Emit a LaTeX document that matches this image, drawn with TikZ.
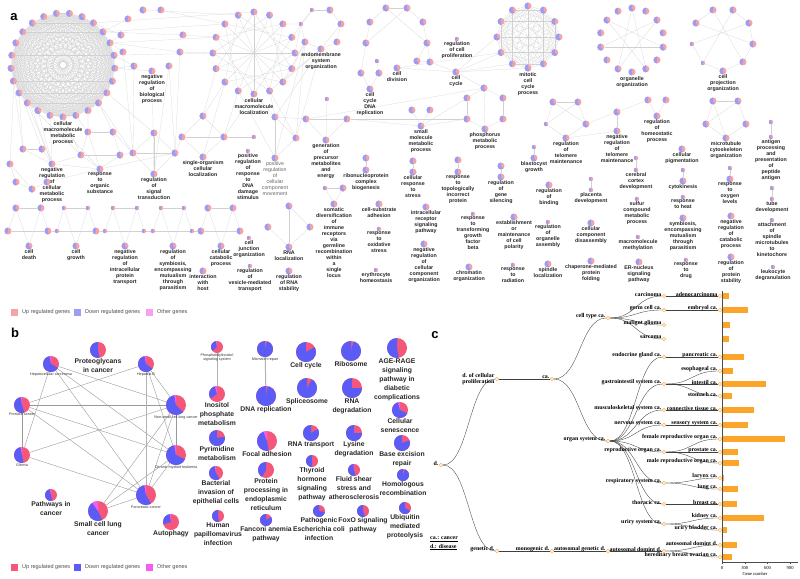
\documentclass[tikz,border=0pt]{standalone}
\usepackage{fontspec}
\setmainfont{Liberation Sans}
\newfontfamily\treefont{Liberation Serif}
\usetikzlibrary{positioning}
\definecolor{upA}{HTML}{F4A3A8}
\definecolor{downA}{HTML}{9C9CF2}
\definecolor{othA}{HTML}{F6A0F4}
\definecolor{upB}{HTML}{F5577A}
\definecolor{downB}{HTML}{5B5BF5}
\definecolor{othB}{HTML}{F45CF2}
\definecolor{treeor}{HTML}{F6B04A}
\definecolor{baror}{HTML}{FBA52A}
\pgfdeclarelayer{bg}
\pgfsetlayers{bg,main}

\begin{document}
\begin{tikzpicture}[x=1pt, y=-1pt,
  apie/.style={circle, inner sep=0pt, minimum size=7pt, fill=upA, label distance=0.8pt,
    path picture={\fill[downA] (path picture bounding box.center) -- ++(90:6pt)
      arc[start angle=90, delta angle=#1, radius=6pt] -- cycle;}},
  apie/.default=180,
  sm/.style={minimum size=4.4pt},
  albl/.style={font=\bfseries\fontsize{5.3}{6}\selectfont, align=center, inner sep=0pt, text=black!85},
  aedge/.style={draw=black!18, line width=0.2pt},
  bpie/.style n args={3}{circle, inner sep=0pt, minimum size=#1, fill=upB, label distance=0.6pt,
    path picture={\fill[downB] (path picture bounding box.center) -- ++({90+#3}:15pt)
      arc[start angle={90+#3}, delta angle=#2, radius=15pt] -- cycle;
      \fill[othB] (path picture bounding box.center) -- ++(90:15pt)
      arc[start angle=90, delta angle=#3, radius=15pt] -- cycle;}},
  blbl/.style={font=\bfseries\fontsize{6.8}{9.2}\selectfont, align=center, inner sep=0pt, text=black!85},
  btiny/.style={font=\fontsize{3.7}{4.8}\selectfont, align=center, inner sep=0pt, text=black!80},
  bedge/.style={draw=black!40, line width=0.4pt},
  cnode/.style={circle, draw=treeor, fill=white, line width=0.45pt, inner sep=0pt, minimum size=3.4pt},
  clbl/.style={font=\treefont\bfseries\fontsize{5.9}{6.6}\selectfont, inner sep=0.5pt, yshift=1.8pt},
  c2lbl/.style={font=\treefont\bfseries\fontsize{5.9}{6.6}\selectfont, inner sep=0.5pt, align=right},
  cedge/.style={draw=black!75, line width=0.35pt},
  legtext/.style={font=\fontsize{5.5}{6}\selectfont, text=black!70, anchor=west, inner sep=0pt},
  panel/.style={font=\bfseries\fontsize{13}{13}\selectfont, inner sep=0pt}]

  \useasboundingbox (0,0) rectangle (800,578);

  % ---------------- panel a ----------------
  \node[panel] (pa) at (14,17) {a};

  % big cluster
  \foreach \i in {1,...,25} {
    \pgfmathsetmacro\ang{-82.8+14.4*(\i-1)}
    \pgfmathtruncatemacro\pa{150+mod(\i*37,80)}
    \node[apie=\pa] (mm\i) at ({63+52*cos(\ang)},{65+52*sin(\ang)}) {};
  }
  \node[albl, below=1pt of mm13] (mm13t) {cellular\\macromolecule\\metabolic\\process};

  \node[apie=190] (nb1) at (121,35) {};
  \node[apie=170] (nb2) at (128,19) {};
  \node[apie=200] (nb3) at (143,10) {};
  \node[apie=160] (nb4) at (161,10) {};
  \node[apie=150] (nb5) at (183,35) {};
  \node[apie=210] (nb6) at (180,52) {};
  \node[apie=180] (nb7) at (169,66) {};
  \node[apie=170, label={[albl]below:{negative\\regulation\\of\\biological\\process}}] (nb8) at (152,71) {};
  \node[apie=200] (nb9) at (134,66) {};
  \node[apie=160] (nb10) at (123,52) {};

  \node[apie] (mp1) at (23,149) {};
  \node[apie=200] (mp2) at (42,149) {};
  \node[apie=170, label={[albl]below:{negative\\regulation\\of\\cellular\\metabolic\\process}}] (mp3) at (52,164) {};
  \node[apie=160] (mp4) at (10,164) {};
  \node[apie=190] (mp5) at (16,182) {};
  \node[apie=200] (mp6) at (32,189) {};
  \node[apie=180] (mp7) at (47,182) {};

  \node[apie=170] (ro1) at (88,132) {};
  \node[apie=190] (ro2) at (113,132) {};
  \node[apie=160] (ro3) at (81,155) {};
  \node[apie=200] (ro4) at (120,155) {};
  \node[apie, label={[albl]below:{response\\to\\organic\\substance}}] (ro5) at (100,169) {};

  \node[apie=190] (rs1) at (154,133) {};
  \node[apie=170] (rs2) at (133,153) {};
  \node[apie=210] (rs3) at (175,153) {};
  \node[apie, label={[albl]below:{regulation\\of\\signal\\transduction}}] (rs4) at (154,174) {};

  \node[apie=200] (sl1) at (203,116) {};
  \node[apie=170] (sl2) at (182,137) {};
  \node[apie=190] (sl3) at (224,137) {};
  \node[apie, label={[albl]below:{single-organism\\cellular\\localization}}] (sl4) at (203,157) {};

  \node[apie, sm] (pr1) at (254,137) {};
  \node[apie, sm, label={[albl]below:{positive\\regulation\\of\\response\\to\\DNA\\damage\\stimulus}}] (pr2) at (248,151) {};

  % localization cluster
  \foreach \i in {1,...,16} {
    \pgfmathsetmacro\ang{-90+22.5*(\i-1)}
    \pgfmathtruncatemacro\pa{150+mod(\i*29,80)}
    \node[apie=\pa] (ml\i) at ({254+41*cos(\ang)},{53+41*sin(\ang)}) {};
  }
  \node[albl, below=0.8pt of ml9] (ml9t) {cellular\\macromolecule\\localization};

  \node[apie, sm] (em1) at (312,10) {};
  \node[apie=200] (em2) at (330,10) {};
  \node[apie, sm] (em3) at (301,24) {};
  \node[apie=160] (em4) at (341,24) {};
  \node[apie=190] (em5) at (305,42) {};
  \node[apie=170] (em6) at (337,42) {};
  \node[apie, label={[albl]below:{endomembrane\\system\\organization}}] (em7) at (321,49) {};

  \node[apie=200] (pm1) at (275,117) {};
  \node[apie=170] (pm2) at (296,138) {};
  \node[apie, label={[albl, font=\fontsize{5.3}{6}\selectfont, text=black!60]below:{positive\\regulation\\of\\cellular\\component\\movement}}] (pm3) at (275,158) {};

  \node[apie, sm] (gp1) at (327,99) {};
  \node[apie=190] (gp2) at (306,119) {};
  \node[apie=170] (gp3) at (347,119) {};
  \node[apie=200, label={[albl]below:{generation\\of\\precursor\\metabolites\\and\\energy}}] (gp4) at (326,140) {};

  % cell division cluster
  \node[apie=200] (cd1) at (370,22) {};
  \node[apie=220] (cd2) at (386,8) {};
  \node[apie=210] (cd3) at (407,8) {};
  \node[apie=200] (cd4) at (423,22) {};
  \node[apie=220] (cd5) at (427,43) {};
  \node[apie=200] (cd6) at (430,62) {};
  \node[apie=210] (cd7) at (417,61) {};
  \node[apie=220] (cd8) at (366,43) {};
  \node[apie=230, sm] (cd9) at (377,61) {};
  \node[apie=220] (cd10) at (361,73) {};
  \node[apie=210] (cd11) at (379,73) {};
  \node[apie=200, label={[albl]below:{cell\\division}}] (cd12) at (397,68) {};
  \node[apie=230, label={[albl]below:{cell\\cycle\\DNA\\replication}}] (cd13) at (370,89) {};

  \node[apie=170, sm, label={[albl]below:{regulation\\of cell\\proliferation}}] (rcp) at (457,39) {};
  \node[apie=200, label={[albl]below:{cell\\cycle}}] (cc) at (456,72) {};

  \foreach \i in {1,...,12} {
    \pgfmathsetmacro\ang{-90+30*(\i-1)}
    \pgfmathtruncatemacro\pa{170+mod(\i*23,60)}
    \node[apie=\pa] (mc\i) at ({528+31*cos(\ang)},{37+31*sin(\ang)}) {};
  }
  \node[albl, below=0.8pt of mc7] (mc7t) {mitotic\\cell\\cycle\\process};

  \foreach \i in {1,...,14} {
    \pgfmathsetmacro\ang{-90+360/14*(\i-1)}
    \pgfmathtruncatemacro\pa{170+mod(\i*31,60)}
    \node[apie=\pa] (oo\i) at ({632+32*cos(\ang)},{40+32*sin(\ang)}) {};
  }
  \node[albl, below=0.8pt of oo8] (oo8t) {organelle\\organization};

  \node[apie=180, label={[albl]below:{cell\\projection\\organization}}] (cp1) at (723,71) {};
  \node[apie, sm] (cp2) at (703,63) {};
  \node[apie, sm] (cp3) at (692,44) {};
  \node[apie=200] (cp4) at (696,23) {};
  \node[apie=170] (cp5) at (713,10) {};
  \node[apie=190] (cp6) at (733,10) {};
  \node[apie=210] (cp7) at (749,23) {};
  \node[apie=180] (cp8) at (753,44) {};
  \node[apie=160] (cp9) at (743,62) {};

  \node[apie=220] (tm1) at (553,102) {};
  \node[apie=200] (tm2) at (578,102) {};
  \node[apie=230, sm] (tm3) at (546,124) {};
  \node[apie=220] (tm4) at (586,124) {};
  \node[apie=190, label={[albl]below:{regulation\\of\\telomere\\maintenance}}] (tm5) at (566,138) {};
  \node[apie=220] (tm6) at (617,112) {};
  \node[apie=190, label={[albl]below:{negative\\regulation\\of\\telomere\\maintenance}}] (tm7) at (617,131) {};

  \node[apie=170] (hp1) at (648,100) {};
  \node[apie=150] (hp2) at (666,100) {};
  \node[apie=190, label={[albl]below:{regulation\\of\\homeostatic\\process}}] (hp3) at (657,116) {};

  \node[apie=200] (mt1) at (713,101) {};
  \node[apie=220] (mt2) at (738,101) {};
  \node[apie=210] (mt3) at (706,124) {};
  \node[apie=200] (mt4) at (746,124) {};
  \node[apie=180, label={[albl]below:{microtubule\\cytoskeleton\\organization}}] (mt5) at (726,138) {};

  \node[apie=220, sm] (ag1) at (771,122) {};
  \node[apie=220, sm, label={[albl]below:{antigen\\processing\\and\\presentation\\of\\peptide\\antigen}}] (ag2) at (771,137) {};

  \node[apie=200] (sm1) at (412,110) {};
  \node[apie=170] (sm2) at (430,110) {};
  \node[apie=220, label={[albl]below:{small\\molecule\\metabolic\\process}}] (sm3) at (421,126) {};

  \node[apie=200] (ph1) at (484,88) {};
  \node[apie=170] (ph2) at (467,98) {};
  \node[apie=190] (ph3) at (503,98) {};
  \node[apie=180] (ph4) at (467,119) {};
  \node[apie=170] (ph5) at (503,119) {};
  \node[apie=210, label={[albl]below:{phosphorus\\metabolic\\process}}] (ph6) at (485,129) {};

  \node[apie=180] (cs1) at (413,161) {};
  \node[apie=200, label={[albl]below:{cellular\\response\\to\\stress}}] (cs2) at (413,172) {};
  \node[apie=170] (tp1) at (458,160) {};
  \node[apie=190, label={[albl]below:{response\\to\\topologically\\incorrect\\protein}}] (tp2) at (458,172) {};
  \node[apie=220] (gs1) at (501,166) {};
  \node[apie=210, label={[albl]below:{regulation\\of\\gene\\silencing}}] (gs2) at (501,177) {};
  \node[apie=220, sm] (bg1) at (534,147) {};
  \node[apie=220, label={[albl]below:{blastocyst\\growth}}] (bg2) at (534,158) {};
  \node[apie=170, label={[albl]below:{regulation\\of\\binding}}] (rbind) at (549,185) {};

  \node[apie=200] (rb1) at (366,158) {};
  \node[apie=210, label={[albl]below:{ribonucleoprotein\\complex\\biogenesis}}] (rb2) at (366,170) {};
  \node[apie=220, sm] (so1) at (325,188) {};
  \node[apie=200] (so2) at (343,188) {};
  \node[apie=190, label={[albl]below:{somatic\\diversification\\of\\immune\\receptors\\via\\germline\\recombination\\within\\a\\single\\locus}}] (so3) at (334,204) {};
  \node[apie=170, label={[albl]below:{cell-substrate\\adhesion}}] (sa) at (379,204) {};
  \node[apie=160, sm, label={[albl]below:{response\\to\\oxidative\\stress}}] (ox) at (379,229) {};
  \node[apie=170, sm, label={[albl]below:{erythrocyte\\homeostasis}}] (er) at (376,270) {};

  \node[apie=220] (rl1) at (289,206) {};
  \node[apie=200] (rl2) at (268,227) {};
  \node[apie=190] (rl3) at (310,227) {};
  \node[apie=220, label={[albl]below:{RNA\\localization}}] (rl4) at (289,247) {};
  \node[apie=200, label={[albl]below:{regulation\\of RNA\\stability}}] (rst) at (289,271) {};

  \node[apie=190, label={[albl]below:{intracellular\\receptor\\signaling\\pathway}}] (ir) at (426,207) {};
  \node[apie=160, sm, label={[albl]below:{response\\to\\transforming\\growth\\factor\\beta}}] (tg) at (473,214) {};
  \node[apie=200, label={[albl]below:{establishment\\or\\maintenance\\of cell\\polarity}}] (cpol) at (514,217) {};
  \node[apie=170, sm, label={[albl]below:{regulation\\of\\organelle\\assembly}}] (oa) at (548,222) {};
  \node[apie=200, label={[albl]below:{negative\\regulation\\of\\cellular\\component\\organization}}] (nrc) at (424,244) {};
  \node[apie=210, label={[albl]below:{chromatin\\organization}}] (chr) at (469,267) {};
  \node[apie=170, sm, label={[albl]below:{response\\to\\radiation}}] (rad) at (513,265) {};
  \node[apie=200, label={[albl]below:{spindle\\localization}}] (spl) at (548,264) {};

  % bottom left row
  \node[apie=200] (dth1) at (16,208) {};
  \node[apie=170] (dth2) at (41,208) {};
  \node[apie=160] (dth3) at (8,231) {};
  \node[apie=190] (dth4) at (48,231) {};
  \node[apie=210, label={[albl]below:{cell\\death}}] (dth5) at (29,246) {};
  \node[apie, sm] (gr1) at (64,208) {};
  \node[apie, sm] (gr2) at (88,208) {};
  \node[apie, sm] (gr3) at (57,231) {};
  \node[apie=160] (gr4) at (96,231) {};
  \node[apie=190, label={[albl]below:{cell\\growth}}] (gr5) at (76,246) {};
  \node[apie, sm] (ip1) at (113,208) {};
  \node[apie, sm] (ip2) at (137,208) {};
  \node[apie, sm] (ip3) at (105,231) {};
  \node[apie, sm] (ip4) at (144,231) {};
  \node[apie=220, label={[albl]below:{negative\\regulation\\of\\intracellular\\protein\\transport}}] (ip5) at (125,246) {};
  \node[apie, sm] (sy1) at (161,208) {};
  \node[apie, sm] (sy2) at (184,208) {};
  \node[apie, sm] (sy3) at (153,231) {};
  \node[apie, sm] (sy4) at (192,231) {};
  \node[apie=220, label={[albl]below:{regulation\\of\\symbiosis,\\encompassing\\mutualism\\through\\parasitism}}] (sy5) at (173,246) {};
  \node[apie=200] (cb1) at (208,208) {};
  \node[apie=170] (cb2) at (233,208) {};
  \node[apie=210] (cb3) at (201,231) {};
  \node[apie=180] (cb4) at (240,231) {};
  \node[apie=200, label={[albl]below:{cellular\\catabolic\\process}}] (cb5) at (221,246) {};
  \node[apie=170, label={[albl]below:{interaction\\with\\host}}] (ih) at (203,271) {};
  \node[apie=160, sm, label={[albl]below:{cell\\junction\\organization}}] (cj) at (249,238) {};
  \node[apie=160, sm, label={[albl]below:{regulation\\of\\vesicle-mediated\\transport}}] (vt) at (250,266) {};

  % right side singles
  \node[apie=190, label={[albl]below:{cellular\\pigmentation}}] (cpig) at (682,149) {};
  \node[apie=220, sm] (ck1) at (683,170) {};
  \node[apie=210, label={[albl]below:{cytokinesis}}] (ck2) at (683,181) {};
  \node[apie=220, sm, label={[albl]below:{response\\to heat}}] (rh) at (683,197) {};
  \node[apie=200, label={[albl]below:{symbiosis,\\encompassing\\mutualism\\through\\parasitism}}] (sym) at (683,218) {};
  \node[apie=170, sm, label={[albl]below:{response\\to\\drug}}] (rdr) at (686,260) {};
  \node[apie=170, sm] (ccd1) at (636,158) {};
  \node[apie=200, sm, label={[albl]below:{cerebral\\cortex\\development}}] (ccd2) at (636,170) {};
  \node[apie=170, sm, label={[albl]below:{sulfur\\compound\\metabolic\\process}}] (sul) at (637,199) {};
  \node[apie=210, sm, label={[albl]below:{macromolecule\\methylation}}] (mme) at (638,237) {};
  \node[apie=170, label={[albl]below:{ER-nucleus\\signaling\\pathway}}] (ern) at (639,262) {};
  \node[apie=160, sm] (pd1) at (591,179) {};
  \node[apie=160, sm, label={[albl]below:{placenta\\development}}] (pd2) at (591,190) {};
  \node[apie=190, label={[albl]below:{cellular\\component\\disassembly}}] (ccdis) at (591,223) {};
  \node[apie=190, label={[albl]below:{chaperone-mediated\\protein\\folding}}] (chap) at (591,261) {};
  \node[apie=230, sm] (oxl1) at (730,168) {};
  \node[apie=200, label={[albl]below:{response\\to\\oxygen\\levels}}] (oxl2) at (730,179) {};
  \node[apie=170, label={[albl]below:{negative\\regulation\\of\\catabolic\\process}}] (nrcat) at (731,216) {};
  \node[apie=200, label={[albl]below:{regulation\\of\\protein\\stability}}] (rps) at (731,257) {};
  \node[apie=230, sm] (td1) at (772,188) {};
  \node[apie=170, sm, label={[albl]below:{tube\\development}}] (td2) at (772,199) {};
  \node[apie=230, sm, label={[albl]below:{attachment\\of\\spindle\\microtubules\\to\\kinetochore}}] (att) at (772,220) {};
  \node[apie=210, sm, label={[albl]below:{leukocyte\\degranulation}}] (leu) at (773,267) {};

  \begin{pgfonlayer}{bg}
    \foreach \i in {1,...,24} {
      \pgfmathtruncatemacro\k{\i+1}
      \foreach \j in {\k,...,25} \draw[aedge] (mm\i) -- (mm\j);
    }
    \foreach \i in {1,...,11} {
      \pgfmathtruncatemacro\k{\i+1}
      \foreach \j in {\k,...,12} \draw[aedge] (mc\i) -- (mc\j);
    }
    \foreach \i in {1,...,16} {
      \pgfmathtruncatemacro\k{mod(\i+4,16)+1}
      \draw[aedge] (ml\i) -- (ml\k);
    }
    \foreach \i in {1,...,8} {
      \pgfmathtruncatemacro\k{\i+8}
      \draw[aedge] (ml\i) -- (ml\k);
    }
    \foreach \i in {1,3,...,13} {
      \pgfmathtruncatemacro\k{mod(\i+5,14)+1}
      \draw[aedge] (oo\i) -- (oo\k);
    }
    \foreach \u/\v in {mm4/nb2, mm5/nb1, mm5/nb10, mm6/nb10, mm6/nb9, mm7/nb9, mm7/nb8, mm3/nb1, mm4/nb5, mm5/nb6,
      mm3/ml1, mm4/ml15, mm5/ml14, mm6/ml13, nb5/ml14, nb6/ml13, nb4/ml15, nb3/ml16,
      mm17/mp1, mm18/mp1, mm19/mp2, mm16/mp3, mm15/mp3, mm14/mp3, mm20/mp3, mm12/ro1, mm11/ro1, mm13/ro3,
      mm10/rs2, mm9/rs1, mm21/mp4, mm14/ro5, mm16/ro3, mm10/ro2,
      mp1/mp2, mp1/mp3, mp2/mp3, mp4/mp5, mp5/mp6, mp4/mp6, mp3/mp7, mp6/mp7,
      ro1/ro2, ro1/ro3, ro2/ro4, ro3/ro4, ro1/ro5, ro4/ro5, ro3/ro5,
      rs1/rs2, rs1/rs3, rs2/rs3, rs2/rs4, rs3/rs4, rs1/rs4,
      nb9/rs2, nb8/rs4, nb7/rs3, nb6/rs3, nb10/rs2, nb7/rs4,
      ro2/rs2, ro4/rs2, ro5/rs3, mp3/ro3, mp3/ro5, mp7/ro5,
      sl1/sl2, sl1/sl3, sl2/sl4, sl3/sl4, sl2/sl3, sl3/pr1, sl1/ml11, sl1/ml12, sl3/ml10, sl2/rs3, sl4/ml11, sl3/ml9,
      ml5/em3, ml6/em5, ml4/em1, ml7/em5, ml7/em7, ml8/em7, ml3/em3,
      em1/em2, em1/em3, em2/em4, em3/em5, em4/em6, em5/em7, em6/em7, em4/em7,
      ml9/pm1, ml8/pm1, ml10/pm3, ml8/pm2, em5/pm2, em7/pm1, em5/pm3, em7/pm2,
      pm1/pm2, pm2/pm3, pm1/pm3,
      gp1/gp4, gp2/gp4, gp3/gp4, gp2/gp3, pm1/gp2, gp2/ph1, gp3/sm3, gp3/ph4,
      cd1/cd2, cd2/cd3, cd3/cd4, cd4/cd5, cd5/cd6, cd5/cd7, cd6/cd7, cd1/cd8, cd8/cd10, cd3/cd8, cd2/cd5,
      cd9/cd11, cd12/cc, cd6/cc, cd12/mc9, cd11/cd13, cd10/cd13,
      cc/mc8, cc/mc9, cc/mc10, cc/ph1, cc/mc7,
      ph1/ph2, ph1/ph3, ph1/ph6, ph2/ph4, ph3/ph5, ph4/ph6, ph5/ph6, sm3/ph4, sm3/ph2, sm1/sm3, sm2/sm3,
      cp1/cp2, cp2/cp3, cp4/cp5, cp6/cp7, cp7/cp8, cp8/cp9, cp9/cp1, cp5/cp9, cp4/cp8, cp6/cp2, cp3/cp7,
      tm1/tm2, tm1/tm4, tm2/tm3, tm3/tm5, tm4/tm5, tm1/tm3, tm2/tm4, tm4/tm6, tm6/hp1, tm5/tm7, tm6/tm7,
      hp1/hp3, hp2/hp3,
      mt1/mt2, mt1/mt3, mt2/mt4, mt3/mt5, mt4/mt5, mt1/mt5, mt2/mt3,
      ag1/ag2, cs1/cs2, tp1/tp2, gs1/gs2, bg1/bg2, rb1/rb2, ck1/ck2, ccd1/ccd2, pd1/pd2, oxl1/oxl2, td1/td2,
      so1/so2, so1/so3, so2/so3, rl1/rl4, rl1/rl3, rl3/rl4, rl2/rl4,
      dth1/dth3, dth1/dth5, dth2/dth4, dth2/dth5, dth3/dth4, dth1/dth2,
      gr1/gr3, gr1/gr5, gr2/gr4, gr2/gr5, gr3/gr4, gr1/gr2,
      ip1/ip3, ip1/ip5, ip2/ip4, ip2/ip5, ip3/ip4, ip1/ip2,
      sy1/sy3, sy1/sy5, sy2/sy4, sy2/sy5, sy3/sy4, sy1/sy2,
      cb1/cb3, cb1/cb5, cb2/cb4, cb2/cb5, cb3/cb4, cb1/cb2,
      dth4/gr3, gr4/ip3, ip4/sy3, sy4/cb3}
      \draw[aedge] (\u) -- (\v);
  \end{pgfonlayer}

  % legend a
  \fill[upA] (11,309) rectangle (18,316);
  \node[legtext] (la1) at (22,312.5) {Up regulated genes};
  \fill[downA] (74,309) rectangle (81,316);
  \node[legtext] (la2) at (85,312.5) {Down regulated genes};
  \fill[othA] (146,309) rectangle (153,316);
  \node[legtext] (la3) at (157,312.5) {Other genes};

  % ---------------- panel b ----------------
  \node[panel] (pb) at (15,333) {b};

  \node[bpie={16pt}{190}{0}, label={[blbl]below:{Proteoglycans\\in cancer}}] (bPro) at (98,350) {};
  \node[bpie={16pt}{230}{10}, label={[btiny]below:{Hepatocellular carcinoma}}] (bHcc) at (51,364) {};
  \node[bpie={16pt}{225}{10}, label={[btiny]below:{Hepatitis B}}] (bHepB) at (146,364) {};
  \node[bpie={16pt}{190}{8}, label={[btiny]below:{Prostate cancer}}] (bPros) at (22,405) {};
  \node[bpie={20pt}{215}{10}, label={[btiny]below:{Non-small cell lung cancer}}] (bNsc) at (176,405) {};
  \node[bpie={16pt}{180}{10}, label={[btiny]below:{Glioma}}] (bGli) at (22,455) {};
  \node[bpie={20pt}{235}{10}, label={[btiny]below:{Chronic myeloid leukemia}}] (bCml) at (176,455) {};
  \node[bpie={20pt}{200}{10}, label={[btiny]below:{Pancreatic cancer}}] (bPan) at (146,495) {};
  \node[bpie={20pt}{170}{35}, label={[blbl]below:{Small cell lung\\cancer}}] (bScl) at (98,511) {};
  \node[bpie={12pt}{180}{10}, label={[blbl]below:{Pathways in\\cancer}}] (bPic) at (51,495) {};
  \node[bpie={16pt}{100}{8}, label={[blbl]below:{Autophagy}}] (bAut) at (171,522) {};

  \node[bpie={12pt}{120}{10}, label={[btiny]below:{Phosphatidylinositol\\signaling system}}] (bPhi) at (217,347) {};
  \node[bpie={16pt}{110}{15}, label={[blbl]below:{Inositol\\phosphate\\metabolism}}] (bIno) at (217,394) {};
  \node[bpie={16pt}{345}{0}, label={[btiny]below:{Mismatch repair}}] (bMmr) at (265,349) {};
  \node[bpie={20pt}{350}{0}, label={[blbl]below:{DNA replication}}] (bDna) at (266,396) {};
  \node[bpie={20pt}{300}{0}, label={[blbl]below:{Cell cycle}}] (bCcy) at (306,352) {};
  \node[bpie={20pt}{345}{0}, label={[blbl]below:{Ribosome}}] (bRib) at (351,351) {};
  \node[bpie={20pt}{190}{0}, label={[blbl]below:{AGE-RAGE\\signaling\\pathway in\\diabetic\\complications}}] (bAge) at (397,348) {};
  \node[bpie={20pt}{330}{0}, label={[blbl]below:{Spliceosome}}] (bSpl) at (307,388) {};
  \node[bpie={20pt}{270}{0}, label={[blbl]below:{RNA\\degradation}}] (bRna) at (352,388) {};
  \node[bpie={16pt}{230}{15}, label={[blbl]below:{Cellular\\senescence}}] (bSen) at (400,410) {};
  \node[bpie={16pt}{280}{0}, label={[blbl]below:{Pyrimidine\\metabolism}}] (bPyr) at (217,438) {};
  \node[bpie={20pt}{170}{20}, label={[blbl]below:{Focal adhesion}}] (bFoc) at (267,441) {};
  \node[bpie={16pt}{300}{0}, label={[blbl]below:{RNA transport}}] (bRtr) at (311,433) {};
  \node[bpie={16pt}{270}{0}, label={[blbl]below:{Lysine\\degradation}}] (bLys) at (354,433) {};
  \node[bpie={16pt}{290}{0}, label={[blbl]below:{Base excision\\repair}}] (bBer) at (402,443) {};
  \node[bpie={14pt}{200}{10}, label={[blbl]below:{Bacterial\\invasion of\\epithelial cells}}] (bBac) at (216,473) {};
  \node[bpie={16pt}{150}{0}, label={[blbl]below:{Protein\\processing in\\endoplasmic\\reticulum}}] (bPpe) at (266,470) {};
  \node[bpie={12pt}{180}{0}, label={[blbl]below:{Thyroid\\hormone\\signaling\\pathway}}] (bThy) at (312,461) {};
  \node[bpie={12pt}{190}{5}, label={[blbl]below:{Fluid shear\\stress and\\atherosclerosis}}] (bFlu) at (354,470) {};
  \node[bpie={12pt}{340}{0}, label={[blbl]below:{Homologous\\recombination}}] (bHom) at (403,475) {};
  \node[bpie={12pt}{190}{0}, label={[blbl]below:{Human\\papillomavirus\\infection}}] (bHpv) at (218,516) {};
  \node[bpie={12pt}{300}{0}, label={[blbl]below:{Fanconi anemia\\pathway}}] (bFan) at (266,520) {};
  \node[bpie={12pt}{260}{0}, label={[blbl]below:{Pathogenic\\Escherichia coli\\infection}}] (bPat) at (319,511) {};
  \node[bpie={12pt}{200}{0}, label={[blbl]below:{FoxO signaling\\pathway}}] (bFox) at (363,511) {};
  \node[bpie={12pt}{240}{0}, label={[blbl]below:{Ubiquitin\\mediated\\proteolysis}}] (bUbi) at (405,508) {};

  \begin{pgfonlayer}{bg}
    \foreach \u/\v in {bHcc/bNsc, bHcc/bCml, bHcc/bPan, bHcc/bGli, bHepB/bPros, bHepB/bNsc, bHepB/bCml,
      bPros/bNsc, bPros/bGli, bPros/bCml, bPros/bPan, bGli/bNsc, bGli/bPan,
      bNsc/bCml, bNsc/bPan, bNsc/bScl, bCml/bPan, bCml/bScl, bPan/bScl}
      \draw[bedge] (\u) -- (\v);
    \draw[black!30, line width=1pt] (bHepB) -- (bPan);
    \draw[black!30, line width=1pt] (bPhi) -- (bIno);
    \draw[black!30, line width=1pt] (bMmr) -- (bDna);
  \end{pgfonlayer}

  % legend b
  \fill[upB] (11,563.5) rectangle (18,570.5);
  \node[legtext] (lb1) at (22,567) {Up regulated genes};
  \fill[downB] (74,563.5) rectangle (81,570.5);
  \node[legtext] (lb2) at (85,567) {Down regulated genes};
  \fill[othB] (146,563.5) rectangle (153,570.5);
  \node[legtext] (lb3) at (157,567) {Other genes};

  % ---------------- panel c ----------------
  \node[panel] (pc) at (435,335) {c};

  \node[cnode, label={[clbl]left:{d.}}] (dis) at (441,465) {};
  \node[cnode, label={[c2lbl]left:{d. of cellular\\proliferation}}] (cellprol) at (497,379) {};
  \node[cnode, label={[clbl]left:{ca.}}] (canc) at (552,379) {};
  \node[cnode, label={[clbl]left:{cell type ca.}}] (celltype) at (608,318) {};
  \node[cnode, label={[clbl]left:{organ system ca.}}] (organsys) at (608,441) {};
  \node[cnode, label={[clbl]left:{genetic d.}}] (genetic) at (497,551) {};
  \node[cnode, label={[clbl]left:{monogenic d.}}] (monogenic) at (552,551) {};
  \node[cnode, label={[clbl]left:{autosomal genetic d.}}] (autogen) at (608,551) {};
  \node[cnode, label={[clbl]left:{autosomal domint d.}}] (autodom) at (664,551) {};

  \node[cnode, label={[clbl]left:{carcinoma}}] (carcinoma) at (664,296) {};
  \node[cnode, label={[clbl]left:{germ cell ca.}}] (germcell) at (664,310) {};
  \node[cnode, label={[clbl]left:{malignt glioma}}] (glioma) at (664,325) {};
  \node[cnode, label={[clbl]left:{sarcoma}}] (sarcoma) at (664,339) {};
  \node[cnode, label={[clbl]left:{endocrine gland ca.}}] (endocrine) at (664,357) {};
  \node[cnode, label={[clbl]left:{gastrointestil system ca.}}] (gastro) at (664,384) {};
  \node[cnode, label={[clbl]left:{musculoskeletal system ca.}}] (musculo) at (664,410) {};
  \node[cnode, label={[clbl]left:{nervous system ca.}}] (nervous) at (664,425) {};
  \node[cnode, label={[clbl]left:{reproductive organ ca.}}] (reprod) at (664,452) {};
  \node[cnode, label={[clbl]left:{respiratory system ca.}}] (respir) at (664,483) {};
  \node[cnode, label={[clbl]left:{thoracic ca.}}] (thoracic) at (664,504) {};
  \node[cnode, label={[clbl]left:{uriry system ca.}}] (urinary) at (664,524) {};

  \node[cnode, label={[clbl]left:{adenocarcinoma}}] (adeno) at (720,296) {};
  \node[cnode, label={[clbl]left:{embryol ca.}}] (embryo) at (720,310) {};
  \node[cnode, label={[clbl]left:{pancreatic ca.}}] (pancreatic) at (720,357) {};
  \node[cnode, label={[clbl]left:{esophageal ca.}}] (esoph) at (720,371) {};
  \node[cnode, label={[clbl]left:{intestil ca.}}] (intestine) at (720,384) {};
  \node[cnode, label={[clbl]left:{stomach ca.}}] (stomach) at (720,396) {};
  \node[cnode, label={[clbl]left:{connective tissue ca.}}] (connective) at (720,410) {};
  \node[cnode, label={[clbl]left:{sensory system ca.}}] (sensory) at (720,425) {};
  \node[cnode, label={[clbl]left:{female reproductive organ ca.}}] (female) at (720,439) {};
  \node[cnode, label={[clbl]left:{prostate ca.}}] (prostate) at (720,452) {};
  \node[cnode, label={[clbl]left:{male reproductive organ ca.}}] (male) at (720,463) {};
  \node[cnode, label={[clbl]left:{larynx ca.}}] (larynx) at (720,478) {};
  \node[cnode, label={[clbl]left:{lung ca.}}] (lung) at (720,489) {};
  \node[cnode, label={[clbl]left:{breast ca.}}] (breast) at (720,504) {};
  \node[cnode, label={[clbl]left:{kidney ca.}}] (kidney) at (720,518) {};
  \node[cnode, label={[clbl]left:{uriry bladder ca.}}] (bladder) at (720,530) {};
  \node[cnode, label={[clbl]left:{autosomal domint d.}}] (autodomleaf) at (720,545) {};
  \node[cnode, label={[clbl]left:{hereditary breast ovarian ca.}}] (hboc) at (720,557) {};

  \begin{pgfonlayer}{bg}
    \foreach \u/\v in {dis/cellprol, dis/genetic, cellprol/canc, canc/celltype, canc/organsys,
      genetic/monogenic, monogenic/autogen, autogen/autodom,
      celltype/carcinoma, celltype/germcell, celltype/glioma, celltype/sarcoma,
      organsys/endocrine, organsys/gastro, organsys/musculo, organsys/nervous, organsys/reprod,
      organsys/respir, organsys/thoracic, organsys/urinary,
      carcinoma/adeno, germcell/embryo, endocrine/pancreatic, gastro/esoph, gastro/intestine, gastro/stomach,
      musculo/connective, nervous/sensory, reprod/female, reprod/prostate, reprod/male,
      respir/larynx, respir/lung, thoracic/breast, urinary/kidney, urinary/bladder,
      autodom/autodomleaf, autodom/hboc}
      \draw[cedge] (\u) .. controls +(28,0) and +(-28,0) .. (\v);
  \end{pgfonlayer}

  % bars
  \foreach \y/\n in {296/80, 310/340, 325/100, 339/90, 357/280, 371/140, 384/570, 396/130, 410/420,
    425/340, 439/830, 452/210, 463/215, 478/20, 489/200, 504/185, 518/550, 530/60, 545/190, 557/125}
    \fill[baror] (722.5,\y-2.7) rectangle ({722.5+\n*0.0757},\y+2.7);

  \draw[black!70, line width=0.4pt] (722,291) -- (722,562) -- (798,562);
  \foreach \v in {0,300,600,900} {
    \draw[black!70, line width=0.4pt] ({722+\v*0.0757},562) -- ++(0,2);
    \node[font=\treefont\fontsize{4.6}{5}\selectfont, inner sep=0pt] (tick\v) at ({722+\v*0.0757},568) {\v};
  }
  \node[font=\treefont\fontsize{4.6}{5}\selectfont, inner sep=0pt] (gnum) at (755,574) {Gene number};

  \node[font=\treefont\bfseries\fontsize{5.9}{6.6}\selectfont, anchor=west, inner sep=0pt] (legca) at (430,539) {\underline{ca.: cancer}};
  \node[font=\treefont\bfseries\fontsize{5.9}{6.6}\selectfont, anchor=west, inner sep=0pt] (legd) at (430,547) {\underline{d.: disease}};
\end{tikzpicture}
\end{document}
